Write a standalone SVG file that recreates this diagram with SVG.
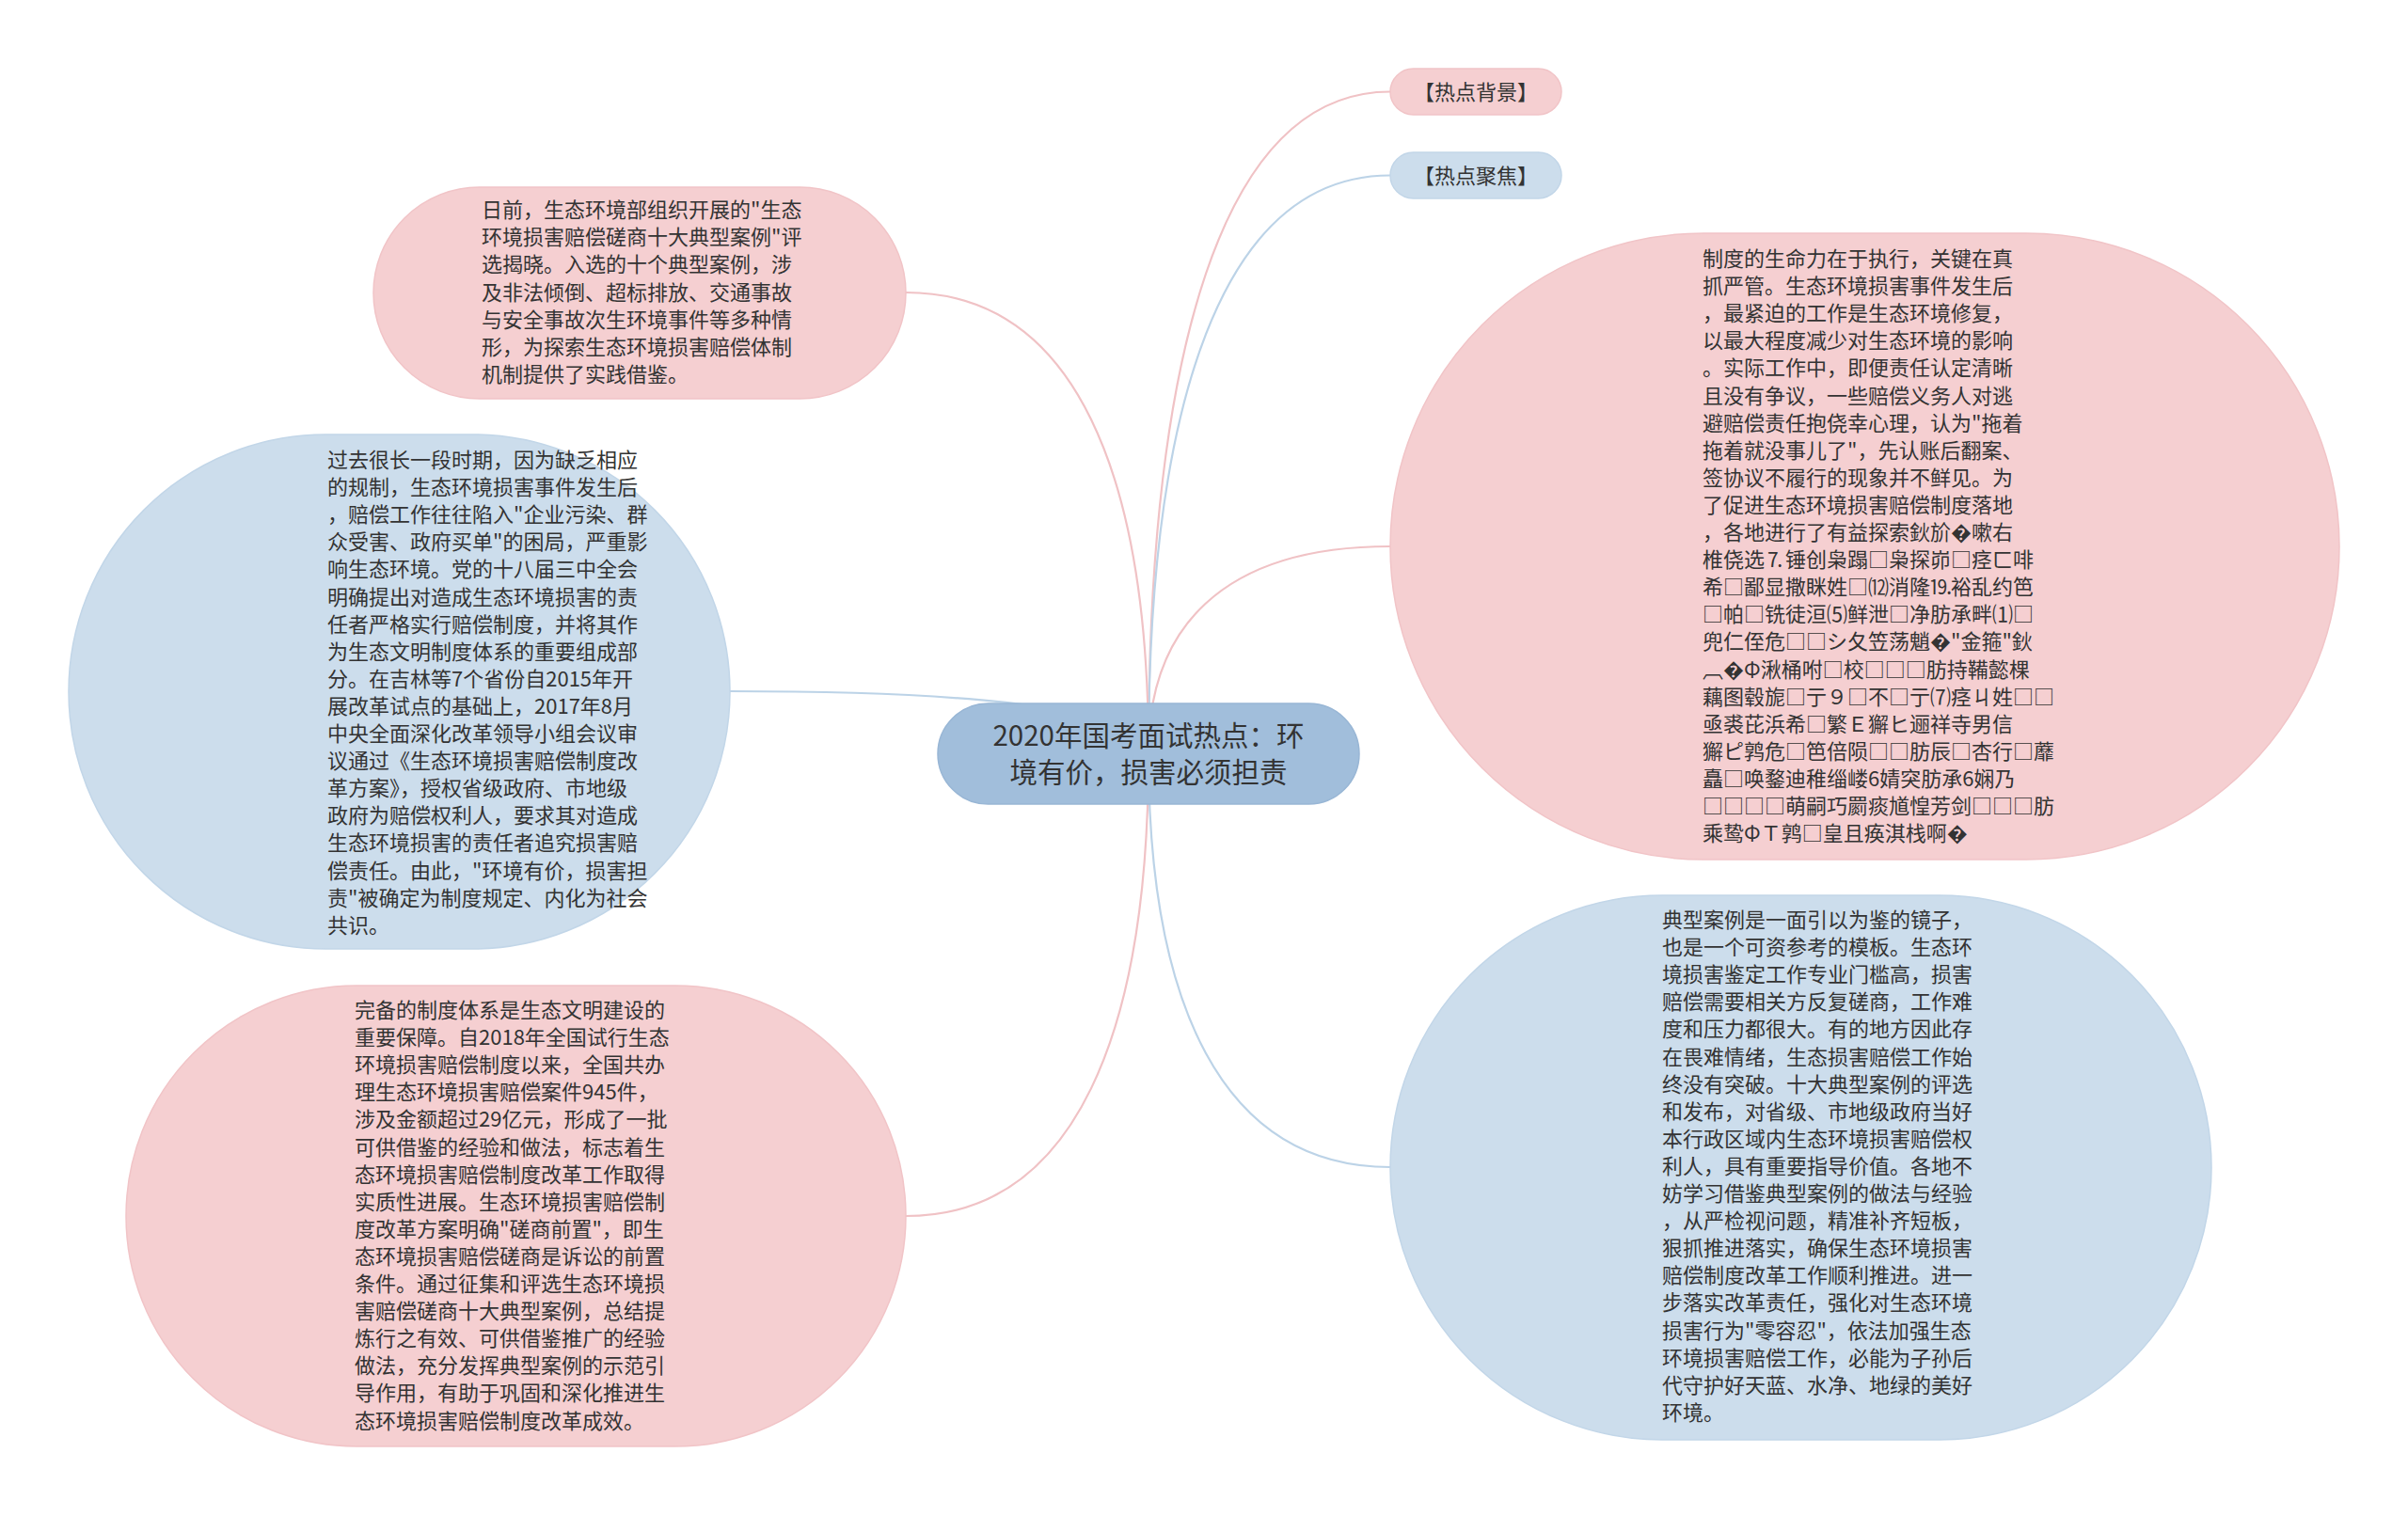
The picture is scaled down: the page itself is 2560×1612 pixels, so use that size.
<svg xmlns="http://www.w3.org/2000/svg" width="2560" height="1612" viewBox="0 0 2560 1612">
<style>
.bg{fill:#ffffff}
.pink{fill:#f5cfd1;stroke:#f1c4c7;stroke-width:1.5}
.blue{fill:#ccddec;stroke:#c2d6e8;stroke-width:1.5}
.root{fill:#a1bedb;stroke:#98b6d5;stroke-width:1.5}
.t{font-family:"Noto Sans CJK SC","Noto Sans",sans-serif;font-size:22px;fill:#333333}
.rt{font-family:"Noto Sans CJK SC","Noto Sans",sans-serif;font-size:29.5px;fill:#333333;text-anchor:middle}
.st{font-family:"Noto Sans CJK SC","Noto Sans",sans-serif;font-size:22px;fill:#333333;text-anchor:middle}
.lp{fill:none;stroke:#f0c2c5;stroke-width:2.2}
.lb{fill:none;stroke:#bcd3e7;stroke-width:2.2}
</style>
<rect class="bg" x="0" y="0" width="2560" height="1612"/>
<g id="connectors">
<path class="lp" d="M1221 801 C1221 379,1298 97.5,1478 97.5"/>
<path class="lb" d="M1221 801 C1221 432,1298 186.5,1478 186.5"/>
<path class="lp" d="M1221 801 C1221 669,1298 581,1478 581"/>
<path class="lb" d="M1221 801 C1221 1065,1298 1241,1478 1241"/>
<path class="lp" d="M1221 801 C1221 507,1144 311,963 311"/>
<path class="lb" d="M1221 801 C1221 761,1087 735,776 735"/>
<path class="lp" d="M1221 801 C1221 1096,1144 1293,963 1293"/>
</g>
<g id="root">
<rect class="root" x="997" y="748" width="448" height="107" rx="53.5" ry="53.5"/>
<text class="rt"><tspan x="1221" y="793">2020年国考面试热点：环</tspan><tspan x="1221" y="832">境有价，损害必须担责</tspan></text>
</g>
<g id="bg-node">
<rect class="pink" x="1478" y="73" width="182" height="49" rx="24.5" ry="24.5"/>
<text class="st" x="1569" y="105.5">【热点背景】</text>
</g>
<g id="focus-node">
<rect class="blue" x="1478" y="162" width="182" height="49" rx="24.5" ry="24.5"/>
<text class="st" x="1569" y="194.5">【热点聚焦】</text>
</g>
<g id="node-topleft">
<rect class="pink" x="397" y="199" width="566" height="225" rx="112.5" ry="112.5"/>
<text class="t"><tspan x="512" y="231">日前，生态环境部组织开展的"生态</tspan><tspan x="512" dy="29.2">环境损害赔偿磋商十大典型案例"评</tspan><tspan x="512" dy="29.2">选揭晓。入选的十个典型案例，涉</tspan><tspan x="512" dy="29.2">及非法倾倒、超标排放、交通事故</tspan><tspan x="512" dy="29.2">与安全事故次生环境事件等多种情</tspan><tspan x="512" dy="29.2">形，为探索生态环境损害赔偿体制</tspan><tspan x="512" dy="29.2">机制提供了实践借鉴。</tspan></text>
</g>
<g id="node-leftmid">
<rect class="blue" x="73" y="462" width="703" height="547" rx="273.5" ry="273.5"/>
<text class="t"><tspan x="348" y="497">过去很长一段时期，因为缺乏相应</tspan><tspan x="348" dy="29.1">的规制，生态环境损害事件发生后</tspan><tspan x="348" dy="29.1">，赔偿工作往往陷入"企业污染、群</tspan><tspan x="348" dy="29.1">众受害、政府买单"的困局，严重影</tspan><tspan x="348" dy="29.1">响生态环境。党的十八届三中全会</tspan><tspan x="348" dy="29.1">明确提出对造成生态环境损害的责</tspan><tspan x="348" dy="29.1">任者严格实行赔偿制度，并将其作</tspan><tspan x="348" dy="29.1">为生态文明制度体系的重要组成部</tspan><tspan x="348" dy="29.1">分。在吉林等7个省份自2015年开</tspan><tspan x="348" dy="29.1">展改革试点的基础上，2017年8月</tspan><tspan x="348" dy="29.1">中央全面深化改革领导小组会议审</tspan><tspan x="348" dy="29.1">议通过《生态环境损害赔偿制度改</tspan><tspan x="348" dy="29.1">革方案》，授权省级政府、市地级</tspan><tspan x="348" dy="29.1">政府为赔偿权利人，要求其对造成</tspan><tspan x="348" dy="29.1">生态环境损害的责任者追究损害赔</tspan><tspan x="348" dy="29.1">偿责任。由此，"环境有价，损害担</tspan><tspan x="348" dy="29.1">责"被确定为制度规定、内化为社会</tspan><tspan x="348" dy="29.1">共识。</tspan></text>
</g>
<g id="node-leftbottom">
<rect class="pink" x="134" y="1048" width="829" height="490" rx="245" ry="245"/>
<text class="t"><tspan x="377" y="1082">完备的制度体系是生态文明建设的</tspan><tspan x="377" dy="29.1">重要保障。自2018年全国试行生态</tspan><tspan x="377" dy="29.1">环境损害赔偿制度以来，全国共办</tspan><tspan x="377" dy="29.1">理生态环境损害赔偿案件945件，</tspan><tspan x="377" dy="29.1">涉及金额超过29亿元，形成了一批</tspan><tspan x="377" dy="29.1">可供借鉴的经验和做法，标志着生</tspan><tspan x="377" dy="29.1">态环境损害赔偿制度改革工作取得</tspan><tspan x="377" dy="29.1">实质性进展。生态环境损害赔偿制</tspan><tspan x="377" dy="29.1">度改革方案明确"磋商前置"，即生</tspan><tspan x="377" dy="29.1">态环境损害赔偿磋商是诉讼的前置</tspan><tspan x="377" dy="29.1">条件。通过征集和评选生态环境损</tspan><tspan x="377" dy="29.1">害赔偿磋商十大典型案例，总结提</tspan><tspan x="377" dy="29.1">炼行之有效、可供借鉴推广的经验</tspan><tspan x="377" dy="29.1">做法，充分发挥典型案例的示范引</tspan><tspan x="377" dy="29.1">导作用，有助于巩固和深化推进生</tspan><tspan x="377" dy="29.1">态环境损害赔偿制度改革成效。</tspan></text>
</g>
<g id="node-righttop">
<rect class="pink" x="1478" y="248" width="1009" height="666" rx="333" ry="333"/>
<text class="t"><tspan x="1810" y="283">制度的生命力在于执行，关键在真</tspan><tspan x="1810" dy="29.1">抓严管。生态环境损害事件发生后</tspan><tspan x="1810" dy="29.1">，最紧迫的工作是生态环境修复，</tspan><tspan x="1810" dy="29.1">以最大程度减少对生态环境的影响</tspan><tspan x="1810" dy="29.1">。实际工作中，即便责任认定清晰</tspan><tspan x="1810" dy="29.1">且没有争议，一些赔偿义务人对逃</tspan><tspan x="1810" dy="29.1">避赔偿责任抱侥幸心理，认为"拖着</tspan><tspan x="1810" dy="29.1">拖着就没事儿了"，先认账后翻案、</tspan><tspan x="1810" dy="29.1">签协议不履行的现象并不鲜见。为</tspan><tspan x="1810" dy="29.1">了促进生态环境损害赔偿制度落地</tspan><tspan x="1810" dy="29.1">，各地进行了有益探索鈥斺�嗽右</tspan><tspan x="1810" dy="29.1">椎侥选⒎锤创枭蹋□枭探峁□痉ㄈ啡</tspan><tspan x="1810" dy="29.1">希□鄙显撒眯姓□⑿消隆⒚裕乱约笆</tspan><tspan x="1810" dy="29.1">□帕□铣徒洹⑸鲜泄□净肪承畔⑴□</tspan><tspan x="1810" dy="29.1">兜仁侄危□□シ夂笠荡魈�"金箍"鈥</tspan><tspan x="1810" dy="29.1">︹�Φ湫桶咐□校□□□肪持鞴懿棵</tspan><tspan x="1810" dy="29.1">藕图毂旎□亍９□不□亍⑺痉ㄐ姓□□</tspan><tspan x="1810" dy="29.1">亟裘芘浜希□繁Ｅ獬ヒ逦祥寺男信</tspan><tspan x="1810" dy="29.1">獬ピ鹑危□笆倍陨□□肪辰□杏行□蘼</tspan><tspan x="1810" dy="29.1">矗□唤鍪迪稚缁嵝6婧突肪承6娴乃</tspan><tspan x="1810" dy="29.1">□□□□萌嗣巧罽痰馗惶芳剑□□□肪</tspan><tspan x="1810" dy="29.1">乘鸷ΦＴ鹑□皇且痪淇栈啊�</tspan></text>
</g>
<g id="node-rightbottom">
<rect class="blue" x="1478" y="952" width="873" height="579" rx="289.5" ry="289.5"/>
<text class="t"><tspan x="1767" y="986">典型案例是一面引以为鉴的镜子，</tspan><tspan x="1767" dy="29.1">也是一个可资参考的模板。生态环</tspan><tspan x="1767" dy="29.1">境损害鉴定工作专业门槛高，损害</tspan><tspan x="1767" dy="29.1">赔偿需要相关方反复磋商，工作难</tspan><tspan x="1767" dy="29.1">度和压力都很大。有的地方因此存</tspan><tspan x="1767" dy="29.1">在畏难情绪，生态损害赔偿工作始</tspan><tspan x="1767" dy="29.1">终没有突破。十大典型案例的评选</tspan><tspan x="1767" dy="29.1">和发布，对省级、市地级政府当好</tspan><tspan x="1767" dy="29.1">本行政区域内生态环境损害赔偿权</tspan><tspan x="1767" dy="29.1">利人，具有重要指导价值。各地不</tspan><tspan x="1767" dy="29.1">妨学习借鉴典型案例的做法与经验</tspan><tspan x="1767" dy="29.1">，从严检视问题，精准补齐短板，</tspan><tspan x="1767" dy="29.1">狠抓推进落实，确保生态环境损害</tspan><tspan x="1767" dy="29.1">赔偿制度改革工作顺利推进。进一</tspan><tspan x="1767" dy="29.1">步落实改革责任，强化对生态环境</tspan><tspan x="1767" dy="29.1">损害行为"零容忍"，依法加强生态</tspan><tspan x="1767" dy="29.1">环境损害赔偿工作，必能为子孙后</tspan><tspan x="1767" dy="29.1">代守护好天蓝、水净、地绿的美好</tspan><tspan x="1767" dy="29.1">环境。</tspan></text>
</g>
</svg>
